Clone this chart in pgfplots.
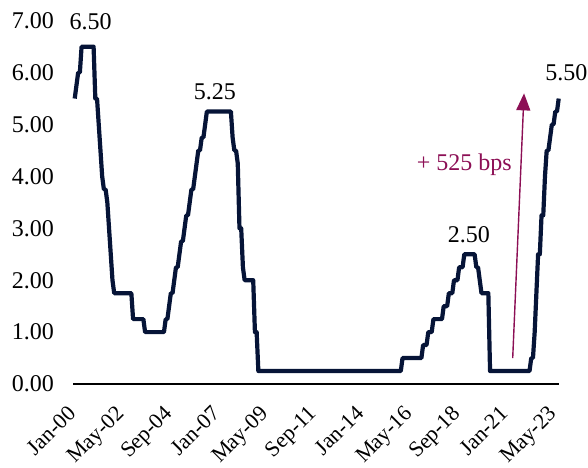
\documentclass[border=0pt]{standalone}
\usepackage{pgfplots}
\pgfplotsset{compat=1.18}
\usepackage{fontspec}
\setmainfont{Liberation Serif}
\usetikzlibrary{arrows.meta,calc}
\definecolor{navy}{HTML}{061437}
\definecolor{maroon}{HTML}{8C0F55}
\begin{document}
\begin{tikzpicture}
\fontsize{24}{28}\selectfont
\begin{axis}[
  scale only axis, width=485.7pt, height=363.3pt,
  xmin=-1, xmax=282, ymin=0, ymax=7,
  axis lines=left,
  axis line style={line width=1.5pt,-},
  y axis line style={draw=none},
  clip=false,
  xtick={0,28,...,280},
  xticklabels={Jan-00,May-02,Sep-04,Jan-07,May-09,Sep-11,Jan-14,May-16,Sep-18,Jan-21,May-23},
  ytick={0,1,...,7},
  major tick length=0pt,
  /pgf/number format/fixed,
  /pgf/number format/fixed zerofill,
  /pgf/number format/precision=2,
  /pgf/number format/assume math mode=true,
  yticklabel style={anchor=east, inner sep=0pt, xshift=-19pt, font=\fontsize{24}{28}\selectfont},
  xticklabel style={xshift=-8pt, yshift=-20pt, rotate=45, anchor=north east, inner sep=0pt, font=\fontsize{22}{26}\selectfont},
]
\coordinate (bl) at (axis cs:-1,0);
\addplot[navy, line width=4.2pt, line join=round] coordinates {
(0,5.5)(1,5.75)(2,6.0)(3,6.0)(4,6.5)(11,6.5)(12,5.5)(13,5.5)(14,5.0)(15,4.5)(16,4.0)(17,3.75)(18,3.75)(19,3.5)(20,3.0)(21,2.5)(22,2.0)(23,1.75)
(33,1.75)(34,1.25)(40,1.25)(41,1.0)(52,1.0)(53,1.25)(54,1.25)(55,1.5)(56,1.75)(57,1.75)(58,2.0)(59,2.25)(60,2.25)(61,2.5)(62,2.75)(63,2.75)(64,3.0)(65,3.25)(66,3.25)(67,3.5)(68,3.75)(69,3.75)(70,4.0)(71,4.25)(72,4.5)(73,4.5)(74,4.75)(75,4.75)(76,5.0)(77,5.25)
(91,5.25)(92,4.75)(93,4.5)(94,4.5)(95,4.25)(96,3.0)(97,3.0)(98,2.25)(99,2.0)(104,2.0)(105,1.0)(106,1.0)(107,0.25)
(190,0.25)(191,0.5)(202,0.5)(203,0.75)(205,0.75)(206,1.0)(208,1.0)(209,1.25)(214,1.25)(215,1.5)(217,1.5)(218,1.75)(220,1.75)(221,2.0)(223,2.0)(224,2.25)(226,2.25)(227,2.5)
(233,2.5)(234,2.25)(235,2.25)(236,2.0)(237,1.75)(241,1.75)(242,0.25)
(265,0.25)(266,0.5)(267,0.5)(268,1.0)(269,1.75)(270,2.5)(271,2.5)(272,3.25)(273,3.25)(274,4.0)(275,4.5)(276,4.5)(277,4.75)(278,5.0)(279,5.0)(280,5.25)(281,5.25)(282,5.5)
};
\draw[maroon, line width=1.4pt, -{Triangle[width=14pt,length=17pt]}] (axis cs:255.2,0.5) -- (axis cs:261.8,5.6);
\node[maroon] at (axis cs:227,4.22) {+ 525 bps};
\node at (axis cs:9.3,6.98) {6.50};
\node at (axis cs:81.6,5.63) {5.25};
\node at (axis cs:229.6,2.87) {2.50};
\node at (axis cs:286.4,6.0) {5.50};
\end{axis}
\pgfresetboundingbox
\path ($(bl)+(-73pt,-83pt)$) rectangle ($(bl)+(515pt,384pt)$);
\end{tikzpicture}
\end{document}
